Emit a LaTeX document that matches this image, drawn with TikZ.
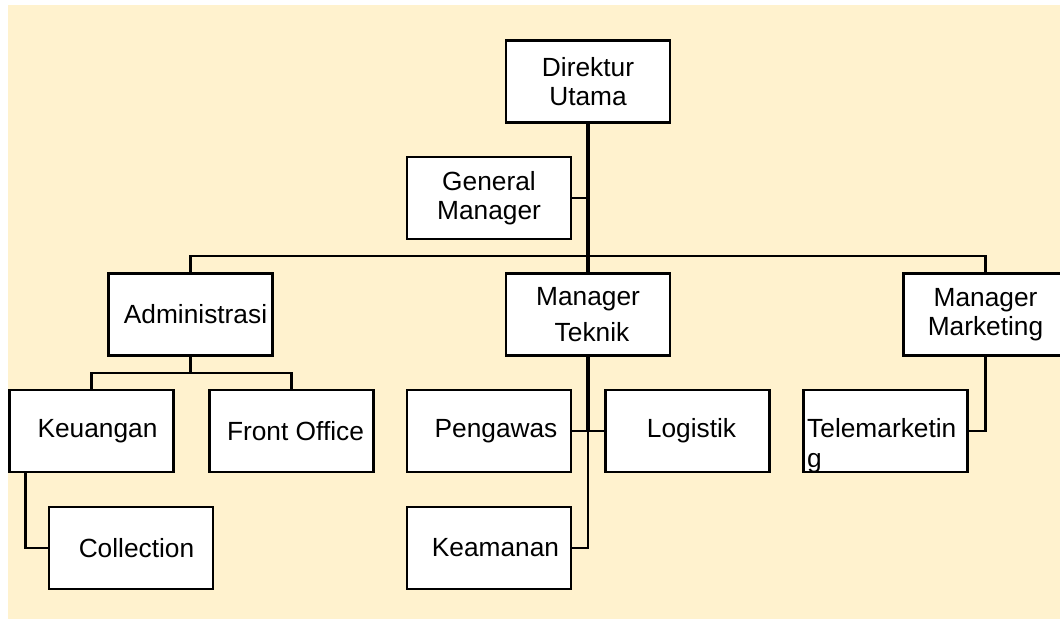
\documentclass[tikz,border=0pt]{standalone}
\usepackage{fontspec}
\setmainfont{Liberation Sans}
\definecolor{cream}{HTML}{FFF2CE}

\tikzset{
  box/.style={draw, fill=white, line width=2.2pt, minimum width=164pt, minimum height=82pt,
    inner sep=0pt, align=center, font=\fontsize{26.3}{29}\selectfont},
  link/.style={line width=2.2pt},
  trunk/.style={line width=3.4pt}
}

\begin{document}
\begin{tikzpicture}[x=1pt, y=-1pt, line cap=butt, line join=miter]

  %% background
  \fill[cream] (8,5) rectangle (1060,619);

  %% boxes
  \node[box] (dir)  at (588,81.5)  {Direktur\\Utama};
  \node[box] (gm)   at (489,198)   {General\\Manager};
  \node[box] (adm)  at (190.5,314.5) {\hspace*{10pt}Administrasi};
  \node[box] (mt)   at (588,314.5) {Manager\\[7pt]\hspace*{8pt}Teknik};
  \node[box] (mm)   at (985.5,314.5) {Manager\\Marketing};
  \node[box] (keu)  at (91.5,431)  {\hspace*{12pt}Keuangan};
  \node[box] (fo)   at (291.5,431) {\hspace*{8pt}Front Office};
  \node[box] (col)  at (131,548)   {\hspace*{11pt}Collection};
  \node[box] (peng) at (489,431)   {\hspace*{14pt}Pengawas};
  \node[box] (log)  at (687.5,431) {\hspace*{8pt}Logistik};
  \node[box] (kea)  at (489,548)   {\hspace*{13pt}Keamanan};
  \node[box, draw=none, outer sep=0pt] (tele) at (885.5,431) {};
  % text cut at the lower edge of the box, as in the original
  \begin{scope}
    \clip (tele.north west) rectangle (tele.south east);
    \node[anchor=base west, align=left, inner sep=0pt,
          font=\fontsize{26.3}{30}\selectfont] (teletext) at (807,467) {Telemarketin\\g};
  \end{scope}
  \draw[line width=2.2pt] (tele.north west) rectangle (tele.south east);

  %% connectors
  \coordinate (bus) at (588,256);
  \coordinate (admbus) at (190.5,373);
  \draw[trunk] (dir.south) -- (bus) -- (mt.north);
  \draw[link] (gm.east) -- (gm.east -| dir.south);
  \draw[link] (adm.north) -- (adm.north |- bus) -- (mm.north |- bus) -- (mm.north);
  \draw[link] (adm.south) -- (admbus);
  \draw[link] (keu.north) |- (admbus) -| (fo.north);
  \draw[link] ([xshift=17pt]keu.south west) |- (col.west);
  \draw[trunk] (mt.south) -- (mt.south |- peng.east);
  \draw[link] (mt.south |- peng.east) |- (kea.east);
  \draw[link] (peng.east) -- (log.west);
  \draw[link] (mm.south) |- (tele.east);

  \pgfresetboundingbox
  \path[use as bounding box] (0,0) rectangle (1060,619);
\end{tikzpicture}
\end{document}
